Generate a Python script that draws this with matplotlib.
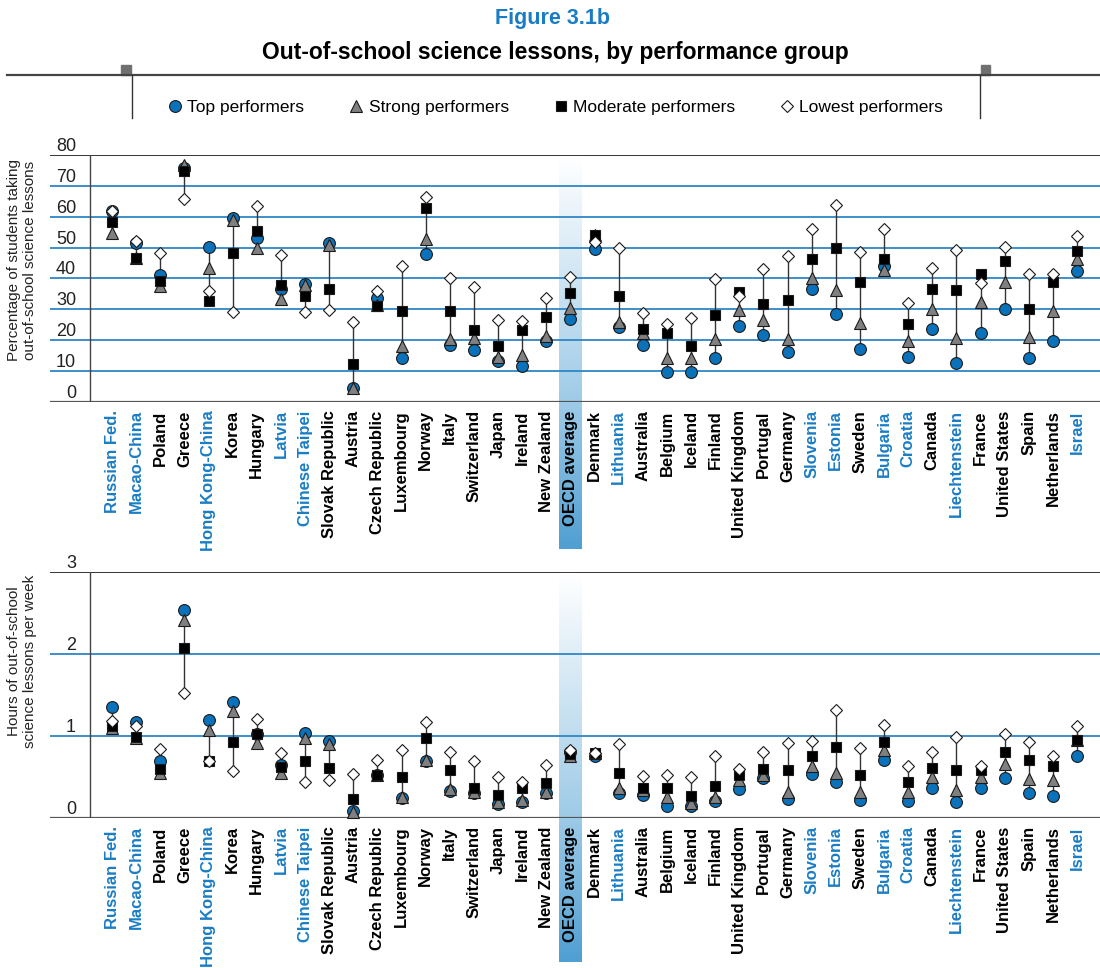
import numpy as np
import matplotlib
matplotlib.use("Agg")
import matplotlib.pyplot as plt
from matplotlib.lines import Line2D
from matplotlib.colors import LinearSegmentedColormap

plt.rcParams['font.family'] = ['Liberation Sans Narrow', 'Liberation Sans', 'DejaVu Sans']

countries = ["Russian Fed.", "Macao-China", "Poland", "Greece", "Hong Kong-China", "Korea",
             "Hungary", "Latvia", "Chinese Taipei", "Slovak Republic", "Austria",
             "Czech Republic", "Luxembourg", "Norway", "Italy", "Switzerland", "Japan",
             "Ireland", "New Zealand", "OECD average", "Denmark", "Lithuania", "Australia",
             "Belgium", "Iceland", "Finland", "United Kingdom", "Portugal", "Germany",
             "Slovenia", "Estonia", "Sweden", "Bulgaria", "Croatia", "Canada",
             "Liechtenstein", "France", "United States", "Spain", "Netherlands", "Israel"]
partners = ["Russian Fed.", "Macao-China", "Hong Kong-China", "Latvia", "Chinese Taipei",
            "Lithuania", "Slovenia", "Estonia", "Bulgaria", "Croatia", "Liechtenstein", "Israel"]

# percentage of students taking out-of-school science lessons
pct_top = [62, 51.6, 41.1, 75.8, 50.2, 59.7, 53.0, 36.6, 38.3, 51.4, 4.4, 33.7, 14.4, 47.8,
           18.5, 16.9, 13.3, 11.8, 19.9, 26.9, 49.4, 24.3, 18.5, 9.7, 9.7, 14.2, 24.7, 21.8,
           16.2, 36.7, 28.5, 17.2, 44.0, 14.7, 23.7, 12.6, 22.3, 30.2, 14.2, 19.8, 42.4]
pct_strong = [54.6, 46.5, 37.7, 76.8, 43.5, 59.0, 50.0, 33.2, 38.0, 50.7, 4.5, 31.5, 18.0, 52.7,
              20.4, 20.7, 14.7, 15.3, 21.5, 30.5, 54.0, 25.8, 22.3, 14.2, 14.2, 20.4, 29.9, 26.4,
              20.5, 40.0, 36.4, 25.6, 42.6, 19.6, 30.2, 20.7, 32.4, 38.9, 21.2, 29.4, 46.4]
pct_moderate = [58.3, 46.7, 39.1, 74.7, 32.6, 48.1, 55.4, 38.0, 34.3, 36.6, 12.4, 31.2, 29.4, 62.8,
                29.4, 23.4, 18.3, 23.4, 27.5, 35.3, 54.0, 34.3, 23.7, 22.3, 18.0, 28.1, 35.6, 31.8,
                33.0, 46.4, 49.9, 38.8, 46.4, 25.3, 36.7, 36.2, 41.6, 45.6, 30.2, 38.8, 48.9]
pct_lowest = [61.9, 52.1, 48.1, 65.7, 36.1, 29.2, 63.5, 47.5, 29.2, 29.9, 25.8, 35.9, 44.0, 66.4,
              40.0, 37.2, 26.4, 26.3, 33.7, 40.5, 51.8, 49.8, 28.8, 25.4, 27.2, 39.7, 34.3, 43.1,
              47.3, 56.1, 63.7, 48.7, 56.1, 32.1, 43.5, 49.2, 38.4, 50.3, 41.5, 41.3, 53.8]

# hours of out-of-school science lessons per week
hrs_top = [1.35, 1.165, 0.69, 2.54, 1.19, 1.41, 1.02, 0.65, 1.035, 0.94, 0.08, 0.53, 0.24, 0.69,
           0.33, 0.30, 0.17, 0.19, 0.31, 0.80, 0.76, 0.31, 0.28, 0.15, 0.14, 0.21, 0.35, 0.485,
           0.23, 0.54, 0.44, 0.22, 0.71, 0.21, 0.37, 0.20, 0.36, 0.49, 0.30, 0.27, 0.75]
hrs_strong = [1.10, 0.98, 0.55, 2.42, 1.07, 1.30, 0.92, 0.55, 0.97, 0.90, 0.07, 0.53, 0.25, 0.71,
              0.35, 0.32, 0.19, 0.22, 0.32, 0.75, 0.79, 0.36, 0.34, 0.25, 0.18, 0.25, 0.46, 0.53,
              0.32, 0.64, 0.55, 0.32, 0.83, 0.32, 0.50, 0.34, 0.50, 0.66, 0.47, 0.46, 0.95]
hrs_moderate = [1.12, 0.99, 0.60, 2.07, 0.69, 0.93, 1.02, 0.62, 0.70, 0.615, 0.23, 0.53, 0.50, 0.97,
                0.58, 0.36, 0.28, 0.36, 0.43, 0.78, 0.79, 0.55, 0.36, 0.36, 0.27, 0.39, 0.53, 0.595,
                0.59, 0.76, 0.87, 0.53, 0.93, 0.44, 0.61, 0.58, 0.59, 0.80, 0.71, 0.63, 0.95]
hrs_lowest = [1.18, 1.12, 0.84, 1.52, 0.69, 0.57, 1.21, 0.79, 0.44, 0.46, 0.54, 0.71, 0.83, 1.17,
              0.80, 0.69, 0.50, 0.44, 0.65, 0.83, 0.79, 0.90, 0.51, 0.53, 0.50, 0.76, 0.595, 0.80,
              0.91, 0.94, 1.32, 0.85, 1.13, 0.63, 0.80, 0.99, 0.63, 1.03, 0.93, 0.76, 1.12]

BLUE = '#1a7dc4'
GRID = '#2f86c6'
styles = [  # label, marker, size, face, zorder
    ("Top performers", 'o', 8.5, '#0a72ba', 3),
    ("Strong performers", '^', 8.5, '#808080', 4),
    ("Moderate performers", 's', 7.3, 'black', 5),
    ("Lowest performers", 'D', 6.3, 'white', 6),
]

fig = plt.figure(figsize=(11, 9.68), dpi=100)
x = np.arange(len(countries))
oecd = countries.index("OECD average")
band = LinearSegmentedColormap.from_list(
    "band", [(0, '#ffffff'), (0.62, '#9fcbe7'), (1, '#4f9fd2')])


def panel(rect, series, ymax, grid, ylabel, label_y, band_bottom):
    ax = fig.add_axes(rect)
    ax.patch.set_alpha(0)
    for s in ax.spines.values():
        s.set_visible(False)
    # OECD highlight band running into the label area
    grad = np.linspace(0, 1, 256).reshape(-1, 1)
    ax.imshow(grad, cmap=band, aspect='auto', origin='upper',
              extent=(oecd - 0.46, oecd + 0.46, band_bottom, ymax * 0.99),
              clip_on=False, zorder=0)
    for g in grid:
        ax.axhline(g, color=GRID, lw=1.3, zorder=1)
    ax.axhline(ymax, color='black', lw=1.1, zorder=1)
    ax.axhline(0, color='#555555', lw=1.6, zorder=1)
    ax.axvline(-0.91, color='#444444', lw=1.0, zorder=1)

    arr = np.array(series)
    ax.vlines(x, arr.min(axis=0), arr.max(axis=0), color='#333333', lw=1.0, zorder=2)
    for vals, (lab, m, ms, fc, z) in zip(series, styles):
        ax.plot(x, vals, ls='none', marker=m, ms=ms, mfc=fc, mec='#1a1a1a', mew=0.8,
                zorder=z, clip_on=False)

    ax.set_xlim(-2.57, 40.95)
    ax.set_ylim(0, ymax)
    ax.set_yticks([])
    ticks = list(grid) + [0, ymax]
    for t in ticks:
        ax.text(0.0248, t, f"{t:g}", transform=ax.get_yaxis_transform(),
                ha='right', va='bottom', fontsize=13, color='#222222')
    ax.set_xticks(x)
    ax.set_xticklabels(countries, rotation=90, fontsize=12, fontweight='bold', va='top')
    ax.tick_params(axis='x', length=0, pad=6)
    for lbl, name in zip(ax.get_xticklabels(), countries):
        lbl.set_color(BLUE if name in partners else 'black')
    fig.text(0.02, label_y, ylabel, rotation=90, ha='center', va='center',
             fontsize=11, color='#222222', linespacing=1.1)
    return ax


panel([50 / 1100, 0.5847, 1050 / 1100, 0.2552],
      [pct_top, pct_strong, pct_moderate, pct_lowest], 80, range(10, 80, 10),
      "Percentage of students taking\nout-of-school science lessons", 0.731, -47.5)
panel([50 / 1100, 0.155, 1050 / 1100, 0.254],
      [hrs_top, hrs_strong, hrs_moderate, hrs_lowest], 3, [1, 2],
      "Hours of out-of-school\nscience lessons per week", 0.317, -1.76)

# header
fig.text(0.502, 0.981, "Figure 3.1b", ha='center', va='center', fontsize=15.5,
         fontweight='bold', color=BLUE)
fig.text(0.505, 0.946, "Out-of-school science lessons, by performance group", ha='center',
         va='center', fontsize=16.5, fontweight='bold', color='black')
fig.add_artist(Line2D([7 / 1100, 1], [1 - 75 / 968] * 2, color='#444444', lw=1.6))
for xl in (132 / 1100, 980 / 1100):
    fig.add_artist(Line2D([xl, xl], [1 - 75 / 968, 1 - 118 / 968], color='#333333', lw=1.0))
fig.add_artist(plt.Rectangle((121 / 1100, 1 - 75 / 968), 10 / 1100, 10 / 968,
                             color='#707070', transform=fig.transFigure))
fig.add_artist(plt.Rectangle((981 / 1100, 1 - 75 / 968), 9 / 1100, 10 / 968,
                             color='#707070', transform=fig.transFigure))

handles = [Line2D([], [], ls='none', marker=m, ms=ms, mfc=fc, mec='#1a1a1a', mew=0.8, label=lab)
           for lab, m, ms, fc, z in styles]
fig.legend(handles=handles, loc='center', bbox_to_anchor=(0.5036, 1 - 107 / 968), ncol=4,
           frameon=False, fontsize=12.5, handletextpad=0.1, columnspacing=2.4,
           handlelength=1.2)

fig.savefig("out.png", dpi=100)
